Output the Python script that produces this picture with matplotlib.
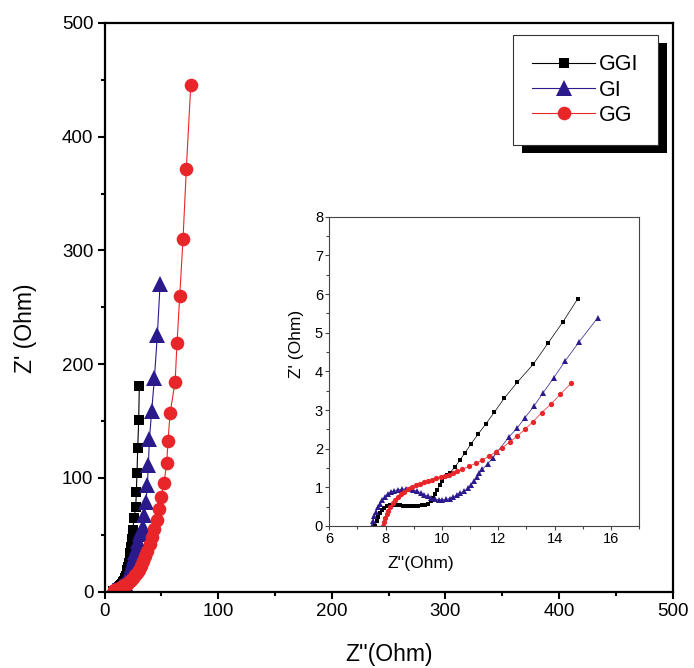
import numpy as np
import matplotlib
matplotlib.use("Agg")
import matplotlib.pyplot as plt
from matplotlib.ticker import MultipleLocator
from matplotlib.patches import Rectangle

plt.rcParams['font.family'] = ['Liberation Sans', 'DejaVu Sans']

# Data (Z'' , Z')
ggi_x = [7.63, 7.68, 7.74, 7.8, 7.87, 7.95, 8.04, 8.14, 8.25, 8.37, 8.5, 8.63, 8.76, 8.9, 9.03,
         9.16, 9.28, 9.4, 9.5, 9.6, 9.68, 9.76, 9.84, 9.92, 10.0, 10.09, 10.18, 10.29, 10.47,
         10.64, 10.83, 11.03, 11.29, 11.56, 11.86, 12.21, 12.68, 13.24, 13.77, 14.29, 14.82,
         15.4, 16.0, 16.6, 17.2, 17.8, 18.4, 19.0, 19.6, 20.2, 20.8, 21.4, 22.0, 22.6, 23.2,
         23.9, 24.8, 26.0, 27.5, 28.0, 28.6, 29.2, 30.1, 30.6]
ggi_y = [0.0, 0.12, 0.24, 0.33, 0.41, 0.47, 0.51, 0.53, 0.54, 0.54, 0.53, 0.52, 0.52, 0.51, 0.51,
         0.52, 0.53, 0.55, 0.58, 0.64, 0.72, 0.82, 0.94, 1.06, 1.17, 1.27, 1.33, 1.38, 1.53,
         1.71, 1.90, 2.12, 2.38, 2.64, 2.94, 3.30, 3.72, 4.18, 4.73, 5.27, 5.87,
         6.5, 7.3, 8.3, 9.4, 10.7, 12.3, 14.2, 16.4, 19.0, 22.0, 25.5, 29.6, 34.3, 39.7,
         46.0, 54.5, 64.5, 74.8, 88.0, 104.7, 126.1, 151.0, 180.9]

gi_x = [7.51, 7.55, 7.6, 7.66, 7.73, 7.8, 7.88, 7.97, 8.07, 8.18, 8.3, 8.43, 8.57, 8.71, 8.85,
        8.99, 9.12, 9.25, 9.38, 9.5, 9.62, 9.75, 9.88, 10.01, 10.14, 10.27, 10.4, 10.53, 10.66,
        10.79, 10.92, 11.04, 11.15, 11.26, 11.33, 11.44, 11.62, 11.8, 11.97, 12.39, 12.68,
        12.95, 13.27, 13.6, 13.98, 14.39, 14.88, 15.54,
        16.2, 16.9, 17.6, 18.3, 19.0, 19.8, 20.6, 21.4, 22.3, 23.2, 24.1, 25.0, 26.0, 27.0,
        28.2, 29.5, 30.8, 32.2, 33.6, 35.0, 36.5, 37.7, 38.6, 39.5, 41.5, 43.9, 46.5, 48.9]
gi_y = [0.0, 0.12, 0.25, 0.37, 0.48, 0.58, 0.67, 0.75, 0.82, 0.87, 0.91, 0.94, 0.95, 0.96, 0.95,
        0.93, 0.9, 0.86, 0.81, 0.77, 0.73, 0.7, 0.68, 0.68, 0.69, 0.71, 0.75, 0.8, 0.85,
        0.9, 0.97, 1.06, 1.16, 1.27, 1.36, 1.47, 1.6, 1.75, 1.92, 2.31, 2.54,
        2.8, 3.1, 3.45, 3.84, 4.28, 4.77, 5.39,
        6.1, 6.9, 7.9, 9.0, 10.3, 11.8, 13.5, 15.5, 17.8, 20.4, 23.4, 26.8, 30.6, 34.8,
        39.5, 44.8, 50.6, 53.8, 57.2, 67.5, 79.2, 93.8, 111.4, 134.0, 158.9, 187.7, 225.8, 270.6]

gg_x = [7.92, 7.95, 7.99, 8.04, 8.1, 8.17, 8.25, 8.34, 8.44, 8.55, 8.67, 8.8, 8.93, 9.07, 9.21,
        9.35, 9.5, 9.65, 9.8, 9.95, 10.1, 10.25, 10.4, 10.55, 10.73, 10.97, 11.21, 11.44,
        11.68, 11.91, 12.15, 12.41, 12.68, 12.95, 13.24, 13.54, 13.88, 14.21, 14.59,
        15.0, 15.7, 16.5, 17.4, 18.4, 19.5, 20.7, 22.0, 23.4, 24.9, 26.5, 28.2, 30.0, 31.9,
        33.8, 35.8, 37.8, 39.8, 41.8, 43.8, 45.9, 48.0, 49.7, 52.4, 54.7, 55.9, 57.7, 62.1,
        63.8, 66.2, 69.1, 72.0, 75.9]
gg_y = [0.0, 0.1, 0.2, 0.3, 0.4, 0.5, 0.59, 0.68, 0.76, 0.83, 0.89, 0.95, 1.0, 1.05, 1.09,
        1.13, 1.16, 1.2, 1.23, 1.26, 1.3, 1.33, 1.36, 1.41, 1.47, 1.55, 1.62, 1.71,
        1.81, 1.91, 2.03, 2.17, 2.33, 2.5, 2.7, 2.93, 3.16, 3.41, 3.69,
        4.0, 4.4, 4.9, 5.5, 6.2, 7.0, 8.0, 9.2, 10.6, 12.3, 14.3, 16.7, 19.5, 22.8,
        26.6, 31.0, 36.0, 41.7, 48.0, 55.0, 63.0, 72.5, 83.6, 95.9, 112.9, 132.8, 156.9, 184.2,
        218.5, 260.0, 310.5, 371.8, 445.4]

labels = ["GGI", "GI", "GG"]
colors = ["#000000", "#2b1a8c", "#e8262a"]
markers = ["s", "^", "o"]
main_ms = [7, 11, 9.8]
inset_ms = [3.0, 4.8, 3.8]
inset_n = [41, 48, 39]   # points shown in the zoomed inset
series = [(ggi_x, ggi_y), (gi_x, gi_y), (gg_x, gg_y)]

fig = plt.figure(figsize=(6.94, 6.68), dpi=100)
ax = fig.add_axes([0.1506, 0.1142, 0.8187, 0.8514])

handles = []
for (x, y), lab, c, m, ms in zip(series, labels, colors, markers, main_ms):
    h, = ax.plot(x, y, color=c, marker=m, markersize=ms, linewidth=0.8,
                 markeredgewidth=0, label=lab)
    handles.append(h)

ax.set_xlim(0, 500)
ax.set_ylim(0, 500)
ax.xaxis.set_major_locator(MultipleLocator(100))
ax.xaxis.set_minor_locator(MultipleLocator(50))
ax.yaxis.set_major_locator(MultipleLocator(100))
ax.yaxis.set_minor_locator(MultipleLocator(50))
for s in ax.spines.values():
    s.set_linewidth(1.6)
ax.tick_params(which='major', direction='out', length=5, width=1.5, labelsize=13.5, pad=3)
ax.tick_params(which='minor', direction='out', length=3, width=1.5)
ax.set_xlabel("Z''(Ohm)", fontsize=16.5)
ax.set_ylabel("Z' (Ohm)", fontsize=16.5)
ax.xaxis.set_label_coords(0.5, -0.09)
ax.yaxis.set_label_coords(-0.119, 0.464)

leg = ax.legend(handles=handles, loc='upper right', bbox_to_anchor=(0.974, 0.979),
                borderaxespad=0, fontsize=15.5, handlelength=2.9, handletextpad=0.2,
                labelspacing=0.2, borderpad=0.9, fancybox=False, framealpha=1,
                edgecolor='#333333')
leg.get_frame().set_linewidth(0.8)
leg.set_zorder(6)

# inset
axin = fig.add_axes([0.4745, 0.2126, 0.4462, 0.4630])
for (x, y), c, m, ms, n in zip(series, colors, markers, inset_ms, inset_n):
    axin.plot(x[:n], y[:n], color=c, marker=m, markersize=ms, linewidth=0.5,
              markeredgewidth=0)
axin.set_xlim(6, 17)
axin.set_ylim(0, 8)
axin.xaxis.set_major_locator(MultipleLocator(2))
axin.xaxis.set_minor_locator(MultipleLocator(1))
axin.yaxis.set_major_locator(MultipleLocator(1))
axin.yaxis.set_minor_locator(MultipleLocator(0.5))
for s in axin.spines.values():
    s.set_linewidth(0.8)
    s.set_color('#444444')
axin.tick_params(which='major', direction='out', length=3, width=0.8, labelsize=10.5, pad=1.5,
                 color='#444444')
axin.tick_params(which='minor', direction='out', length=2, width=0.8, color='#444444')
axin.set_xlabel("Z''(Ohm)", fontsize=12.5)
axin.set_ylabel("Z' (Ohm)", fontsize=12.5)
axin.xaxis.set_label_coords(0.296, -0.097)
axin.yaxis.set_label_coords(-0.082, 0.588)

# black drop shadow behind the legend
fig.canvas.draw()
bb = leg.get_window_extent()
inv = ax.transAxes.inverted()
(x0, y0), (x1, y1) = inv.transform([(bb.x0 + 9, bb.y0 - 8), (bb.x1 + 9, bb.y1 - 8)])
ax.add_patch(Rectangle((x0, y0), x1 - x0, y1 - y0, transform=ax.transAxes,
                       facecolor='black', edgecolor='none', zorder=5, clip_on=False))

fig.savefig("out.png", dpi=100)
